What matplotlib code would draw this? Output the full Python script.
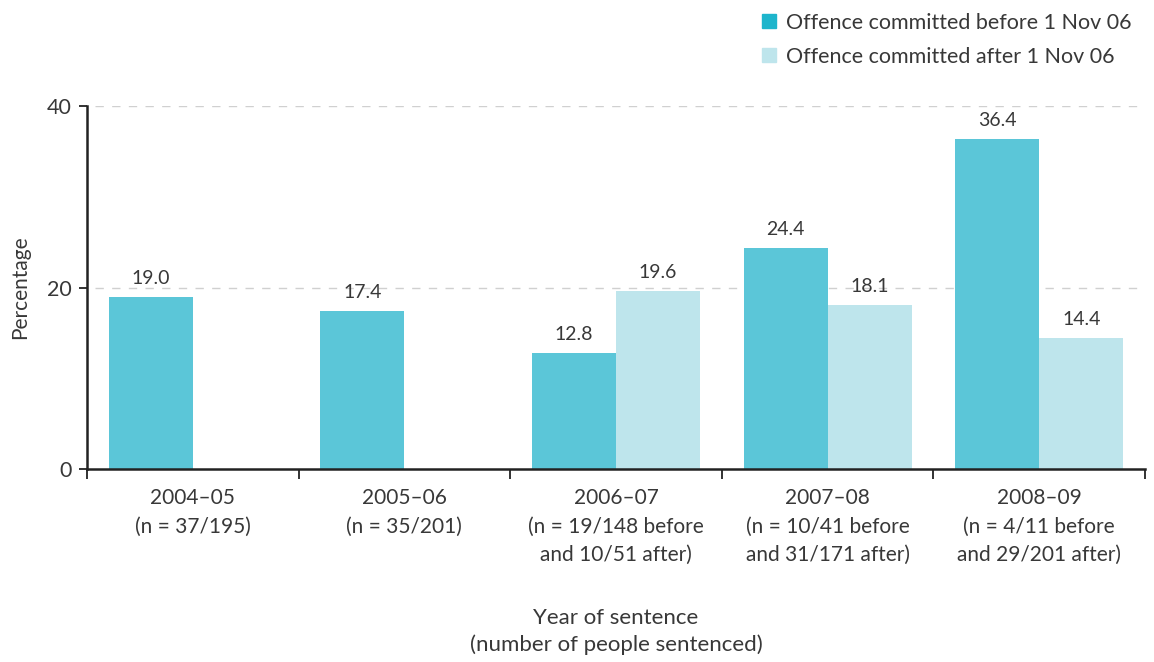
import numpy as np
import matplotlib
matplotlib.use("Agg")
from matplotlib import pyplot as plt
from matplotlib.patches import Patch

plt.rcParams['font.family'] = ['Lato', 'DejaVu Sans']

years = ["2004\u201305", "2005\u201306", "2006\u201307", "2007\u201308", "2008\u201309"]
n_labels = ["(n = 37/195)", "(n = 35/201)",
            "(n = 19/148 before\nand 10/51 after)",
            "(n = 10/41 before\nand 31/171 after)",
            "(n = 4/11 before\nand 29/201 after)"]
before = [19.0, 17.4, 12.8, 24.4, 36.4]
after = [None, None, 19.6, 18.1, 14.4]
series_names = ["Offence committed before 1 Nov 06", "Offence committed after 1 Nov 06"]

c_before = "#5BC6D8"
c_after = "#BEE5EC"
txt = "#383838"

fig = plt.figure(figsize=(11.54, 6.62), dpi=100)
ax = fig.add_axes([87/1154, 1-469/662, (1145-87)/1154, (469-106)/662])

x = np.arange(len(years))
w = 0.397
for i in range(len(years)):
    ax.bar(x[i] - w/2, before[i], w, color=c_before, zorder=2)
    ax.text(x[i] - w/2, before[i] + 1.1, f"{before[i]:.1f}", ha='center', va='bottom',
            fontsize=14, color=txt)
    if after[i] is not None:
        ax.bar(x[i] + w/2, after[i], w, color=c_after, zorder=2)
        ax.text(x[i] + w/2, after[i] + 1.1, f"{after[i]:.1f}", ha='center', va='bottom',
                fontsize=14, color=txt)

ax.set_xlim(-0.5, len(years) - 0.5)
ax.set_ylim(0, 40)
ax.set_yticks([0, 20, 40])
ax.set_yticklabels(["0", "20", "40"], fontsize=15.5, color=txt)

for y in [20, 40]:
    ax.plot([-0.46, len(years) - 0.5], [y, y], color="#d0d0d0", lw=1,
            ls=(0, (6, 6)), zorder=1)

ax.set_xticks(x)
ax.set_xticklabels([f"{y}\n{n}" for y, n in zip(years, n_labels)], fontsize=15,
                   color=txt, va='top', linespacing=1.5)
ax.tick_params(axis='x', which='major', length=0, pad=14)
ax.set_xticks(np.arange(-0.5, len(years)), minor=True)
ax.tick_params(axis='x', which='minor', length=7, width=1.3, color="#222222")
ax.tick_params(axis='y', length=6, width=1.3, color="#222222", pad=5)

for s in ['top', 'right']:
    ax.spines[s].set_visible(False)
for s in ['left', 'bottom']:
    ax.spines[s].set_linewidth(1.8)
    ax.spines[s].set_color("#222222")

ax.set_ylabel("Percentage", fontsize=15, color=txt, labelpad=12)
ax.set_xlabel("Year of sentence\n(number of people sentenced)", fontsize=16,
              color=txt, labelpad=31, linespacing=1.4)

handles = [Patch(color="#1DB5CC"), Patch(color=c_after)]
fig.legend(handles, series_names, loc='upper right', bbox_to_anchor=(0.997, 1.01),
           frameon=False, fontsize=15.5, handlelength=0.65, handleheight=0.65,
           handletextpad=0.45, labelspacing=0.65, labelcolor=txt)

fig.savefig("out.png", dpi=100)
